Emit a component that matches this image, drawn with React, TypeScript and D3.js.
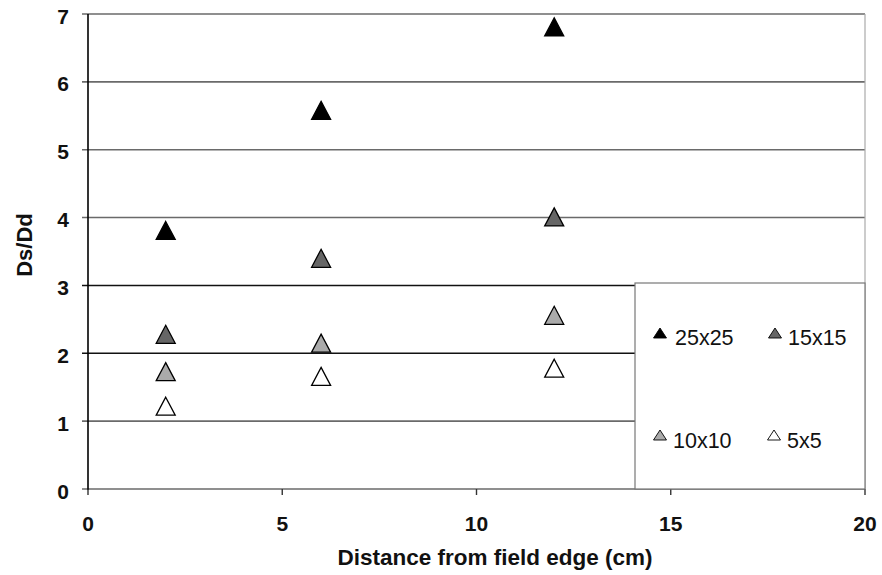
import React from "react";
import * as d3 from "d3";

const xPositions = [2, 6, 12];
const series25 = [3.81, 5.58, 6.81];
const series15 = [2.28, 3.4, 4.01];
const series10 = [1.73, 2.15, 2.56];
const series5 = [1.22, 1.66, 1.78];
const seriesNames = ["25x25", "15x15", "10x10", "5x5"];
const seriesFills = ["#000000", "#666666", "#aaaaaa", "#ffffff"];
const xTicks = [0, 5, 10, 15, 20];
const yTicks = [0, 1, 2, 3, 4, 5, 6, 7];

const W = 882, H = 575;
const left = 88, right = 865, top = 14, bottom = 489;

// triangle symbol centered on its bounding box, width w, height h
const triType = (w: number, h: number) => ({
  draw(ctx: any) {
    ctx.moveTo(0, -h / 2);
    ctx.lineTo(w / 2, h / 2);
    ctx.lineTo(-w / 2, h / 2);
    ctx.closePath();
  },
});

export default function App() {
  const x = d3.scaleLinear().domain([0, 20]).range([left, right]);
  const y = d3.scaleLinear().domain([0, 7]).range([bottom, top]);
  const allSeries = [series25, series15, series10, series5];
  const bigTri = d3.symbol().type(triType(19, 18) as any)() as string;
  const smallTri = d3.symbol().type(triType(13, 10) as any)() as string;
  const font = "'Liberation Sans', Arial, sans-serif";
  const gridColor = (v: number) => (v === 2 || v === 3 ? "#111" : "#6a6a6a");

  const legendX0 = 635, legendY0 = 283;
  const legendMarkers = [
    [660, 333],
    [775, 333],
    [660, 435],
    [774, 435],
  ];
  const legendText = [
    [675, 337],
    [788, 337],
    [673, 440],
    [787, 440],
  ];

  return (
    <svg width={W} height={H} style={{ position: "absolute", left: 0, top: 0, background: "#fff" }}>
      <rect width={W} height={H} fill="#fff" />
      {yTicks.map((v) => (
        <line key={"g" + v} x1={left - 6} x2={right} y1={y(v)} y2={y(v)} stroke={gridColor(v)} strokeWidth={1.6} />
      ))}
      <line x1={right} x2={right} y1={top} y2={bottom} stroke="#aaa" strokeWidth={1.2} />
      <line x1={left} x2={left} y1={top} y2={bottom + 1} stroke="#000" strokeWidth={1.6} />
      {xTicks.map((v) => (
        <line key={"xt" + v} x1={x(v)} x2={x(v)} y1={bottom} y2={bottom + 6} stroke="#333" strokeWidth={1.4} />
      ))}
      {yTicks.map((v) => (
        <text key={"yl" + v} x={69} y={y(v) + 2} dy="0.36em" textAnchor="end" fontFamily={font} fontWeight="bold" fontSize={21} fill="#111">
          {v}
        </text>
      ))}
      {xTicks.map((v) => (
        <text key={"xl" + v} x={x(v)} y={531} textAnchor="middle" fontFamily={font} fontWeight="bold" fontSize={21} fill="#111">
          {v}
        </text>
      ))}
      <text x={495} y={565} textAnchor="middle" fontFamily={font} fontWeight="bold" fontSize={22.5} fill="#111">
        Distance from field edge (cm)
      </text>
      <text transform={`translate(32,245) rotate(-90)`} textAnchor="middle" fontFamily={font} fontWeight="bold" fontSize={22} fill="#111">
        Ds/Dd
      </text>
      {allSeries.map((s, si) =>
        s.map((v, i) => (
          <path
            key={`p${si}-${i}`}
            d={bigTri}
            transform={`translate(${x(xPositions[i])},${y(v)})`}
            fill={seriesFills[si]}
            stroke="#000"
            strokeWidth={1.3}
          />
        ))
      )}
      <rect x={legendX0} y={legendY0} width={right - legendX0} height={bottom - legendY0} fill="#fff" stroke="#777" strokeWidth={1.2} />
      {seriesNames.map((n, i) => (
        <g key={"lg" + i}>
          <path d={smallTri} transform={`translate(${legendMarkers[i][0]},${legendMarkers[i][1]})`} fill={seriesFills[i]} stroke="#000" strokeWidth={0.9} />
          <text x={legendText[i][0]} y={legendText[i][1]} dy="0.36em" fontFamily={font} fontSize={21.5} fill="#111">
            {n}
          </text>
        </g>
      ))}
    </svg>
  );
}
